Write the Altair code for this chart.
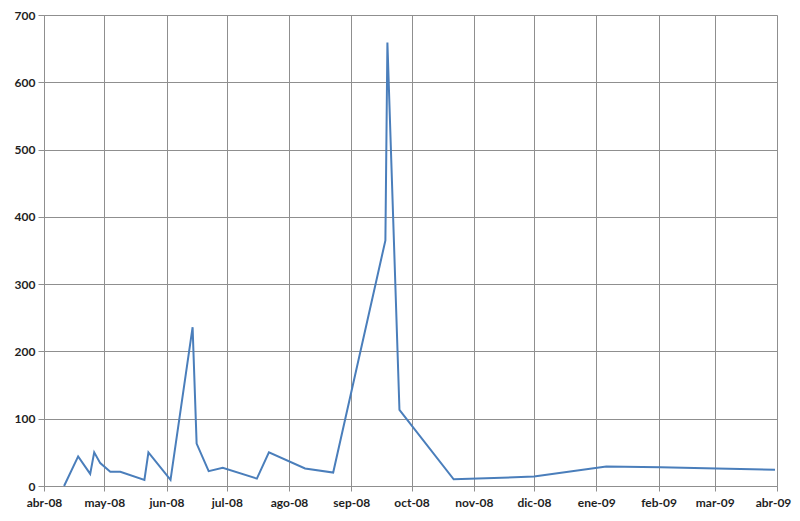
import altair as alt
import pandas as pd

dates = [
    "2008-04-11", "2008-04-18", "2008-04-24", "2008-04-26", "2008-04-29",
    "2008-05-04", "2008-05-09", "2008-05-21", "2008-05-23", "2008-06-03",
    "2008-06-14", "2008-06-16", "2008-06-22", "2008-06-29", "2008-07-16",
    "2008-07-22", "2008-08-09", "2008-08-23", "2008-09-18", "2008-09-19",
    "2008-09-25", "2008-10-22", "2008-12-01", "2009-01-06", "2009-02-02",
    "2009-03-02", "2009-03-31",
]
values = [
    0, 44, 18, 50, 34,
    21, 21, 9, 50, 9,
    236, 63, 22, 27, 11,
    50, 26, 20, 365, 659,
    113, 10, 14, 29, 28,
    26, 24,
]
month_names = ["ene", "feb", "mar", "abr", "may", "jun", "jul", "ago", "sep", "oct", "nov", "dic"]
y_ticks = [0, 100, 200, 300, 400, 500, 600, 700]

df = pd.DataFrame({"fecha": dates, "valor": values})

tick_dates = []
y, m = 2008, 4
for _ in range(13):
    tick_dates.append(alt.DateTime(year=y, month=m, date=1, utc=True))
    m += 1
    if m > 12:
        m = 1
        y += 1

names_js = "[" + ",".join("'%s'" % n for n in month_names) + "]"
label_expr = names_js + "[utcmonth(datum.value)] + '-' + utcFormat(datum.value, '%y')"

grid_color = "#8f8f8f"

chart = (
    alt.Chart(df)
    .mark_line(color="#4a7ebb", strokeWidth=2)
    .encode(
        x=alt.X(
            "fecha:T",
            scale=alt.Scale(
                type="utc",
                domain=[tick_dates[0], tick_dates[-1]],
                nice=False,
            ),
            axis=alt.Axis(
                values=tick_dates,
                labelExpr=label_expr,
                title=None,
                grid=True,
                gridColor=grid_color,
                gridWidth=1,
                domainColor=grid_color,
                tickColor=grid_color,
                tickSize=5,
                labelPadding=6,
                labelFont="Lato",
                labelFontSize=12,
                labelFontWeight="bold",
                labelColor="#1f1f1f",
                labelFlush=False,
                labelOverlap=False,
                labelOffset={
                    "condition": {
                        "test": "utcyear(datum.value) == 2009 && utcmonth(datum.value) == 3",
                        "value": -4,
                    },
                    "value": 0,
                },
            ),
        ),
        y=alt.Y(
            "valor:Q",
            scale=alt.Scale(domain=[0, 700], nice=False),
            axis=alt.Axis(
                values=y_ticks,
                title=None,
                grid=True,
                gridColor=grid_color,
                gridWidth=1,
                domainColor=grid_color,
                tickColor=grid_color,
                tickSize=6,
                labelPadding=3,
                labelFont="Lato",
                labelFontSize=12,
                labelFontWeight="bold",
                labelColor="#1f1f1f",
            ),
        ),
    )
    .properties(
        width=733,
        height=471,
        autosize=alt.AutoSizeParams(type="none"),
        padding={"left": 36, "top": 7, "right": 15, "bottom": 26},
    )
    .configure_view(stroke=None)
    .configure(background="white")
)

chart.save("out.html", embed_options={"renderer": "svg", "actions": False})
